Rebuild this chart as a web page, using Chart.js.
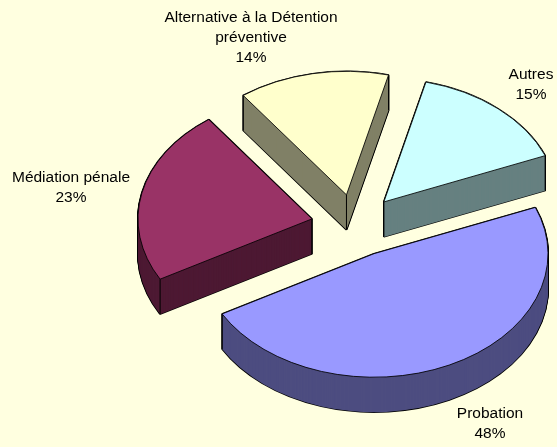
<!DOCTYPE html>
<html>
<head>
<meta charset="utf-8">
<script src="https://cdn.jsdelivr.net/npm/chart.js@4/dist/chart.umd.min.js"></script>
<style>
  html, body { margin: 0; padding: 0; background: #FFFFE0; }
  canvas { display: block; }
</style>
</head>
<body>
<canvas id="pie" width="557" height="447"></canvas>
<script>
// data
const categories = ["Probation", "Médiation pénale", "Alternative à la Détention préventive", "Autres"];
const values = [48, 23, 14, 15];
const labelLines = [["Probation"], ["Médiation pénale"], ["Alternative à la Détention", "préventive"], ["Autres"]];

// styles
const topColours = ["#9999FF", "#993366", "#FFFFCC", "#CCFFFF"];
const wallColours = ["#4D4D80", "#4D1933", "#808066", "#668080"];
const labelX = [490, 71, 251, 531];
const labelY = [414, 178, 18, 75];
const lineHeight = 20;
const pieRadius = 174;
const explode = 44;
const squash = 0.71;
const depth = 35;
const wallOrder = [2, 3, 1, 0]; // back to front

// flatten the pie around its centre
function applySquash(ctx, cy) {
    ctx.translate(0, cy);
    ctx.scale(1, squash);
    ctx.translate(0, -cy);
}

// draw one arc lower down with other colours
function drawLayer(ctx, arc, dy, colour, border) {
    const saved = arc.options;
    arc.options = Object.assign({}, saved, { backgroundColor: colour, borderColor: "#000000", borderWidth: border });
    ctx.save();
    ctx.translate(0, dy);
    applySquash(ctx, arc.y);
    arc.draw(ctx);
    ctx.restore();
    arc.options = saved;
}

// vertical edges on the corners of a slice, the top face hides the ones behind it
function drawCorners(ctx, arc) {
    const mid = (arc.startAngle + arc.endAngle) / 2;
    const half = arc.circumference / 2;
    const ax = arc.x + Math.cos(mid) * explode;
    const ay = arc.y + Math.sin(mid) * explode;
    const corners = [[ax, ay]];
    [mid - half, mid + half].forEach(function (angle) {
        corners.push([ax + Math.cos(angle) * pieRadius, ay + Math.sin(angle) * pieRadius]);
    });
    ctx.strokeStyle = "#000000";
    ctx.lineWidth = 1;
    corners.forEach(function (c) {
        const y = arc.y + (c[1] - arc.y) * squash;
        ctx.beginPath();
        ctx.moveTo(c[0], y);
        ctx.lineTo(c[0], y + depth);
        ctx.stroke();
    });
}

const pie3d = {
    id: "pie3d",
    // arc.draw makes exploded slices bigger and narrower, depending on their angle, so take that off again
    afterDatasetsUpdate(chart) {
        chart.getDatasetMeta(0).data.forEach(function (arc) {
            const grow = explode * (1 - Math.sin(Math.min(Math.PI, arc.circumference)));
            const inset = grow / Math.PI / pieRadius / 2;
            arc.outerRadius = pieRadius - grow;
            arc.startAngle -= inset;
            arc.endAngle += inset;
        });
    },
    beforeDatasetDraw(chart, args) {
        const ctx = chart.ctx;
        const arcs = args.meta.data;
        wallOrder.forEach(function (i) {
            for (let dy = depth; dy >= 0; dy--) {
                drawLayer(ctx, arcs[i], dy, "rgba(0,0,0,0)", 2);
            }
            for (let dy = depth; dy >= 0; dy--) {
                drawLayer(ctx, arcs[i], dy, wallColours[i], 0);
            }
            drawCorners(ctx, arcs[i]);
        });
        // the library draws the top faces itself, flattened the same way
        ctx.save();
        applySquash(ctx, arcs[0].y);
    },
    afterDatasetDraw(chart) {
        chart.ctx.restore();
    },
    afterDraw(chart) {
        const ctx = chart.ctx;
        ctx.save();
        ctx.fillStyle = "#000000";
        ctx.font = "15.5px 'Liberation Sans', Arial, sans-serif";
        ctx.textAlign = "center";
        ctx.textBaseline = "middle";
        values.forEach(function (value, i) {
            const lines = labelLines[i].concat(value + "%");
            lines.forEach(function (line, n) {
                ctx.fillText(line, labelX[i], labelY[i] + n * lineHeight);
            });
        });
        ctx.restore();
    }
};

new Chart(document.getElementById("pie"), {
    type: "pie",
    plugins: [pie3d],
    data: {
        labels: categories,
        datasets: [{
            data: values,
            backgroundColor: topColours,
            borderColor: "#000000",
            borderWidth: 1,
            offset: explode * 4,
            radius: pieRadius,
            clip: false
        }]
    },
    options: {
        responsive: false,
        animation: false,
        rotation: 68,
        layout: { padding: { left: 153, top: 4 } },
        plugins: { legend: { display: false }, tooltip: { enabled: false } },
        events: []
    }
});
</script>
</body>
</html>
